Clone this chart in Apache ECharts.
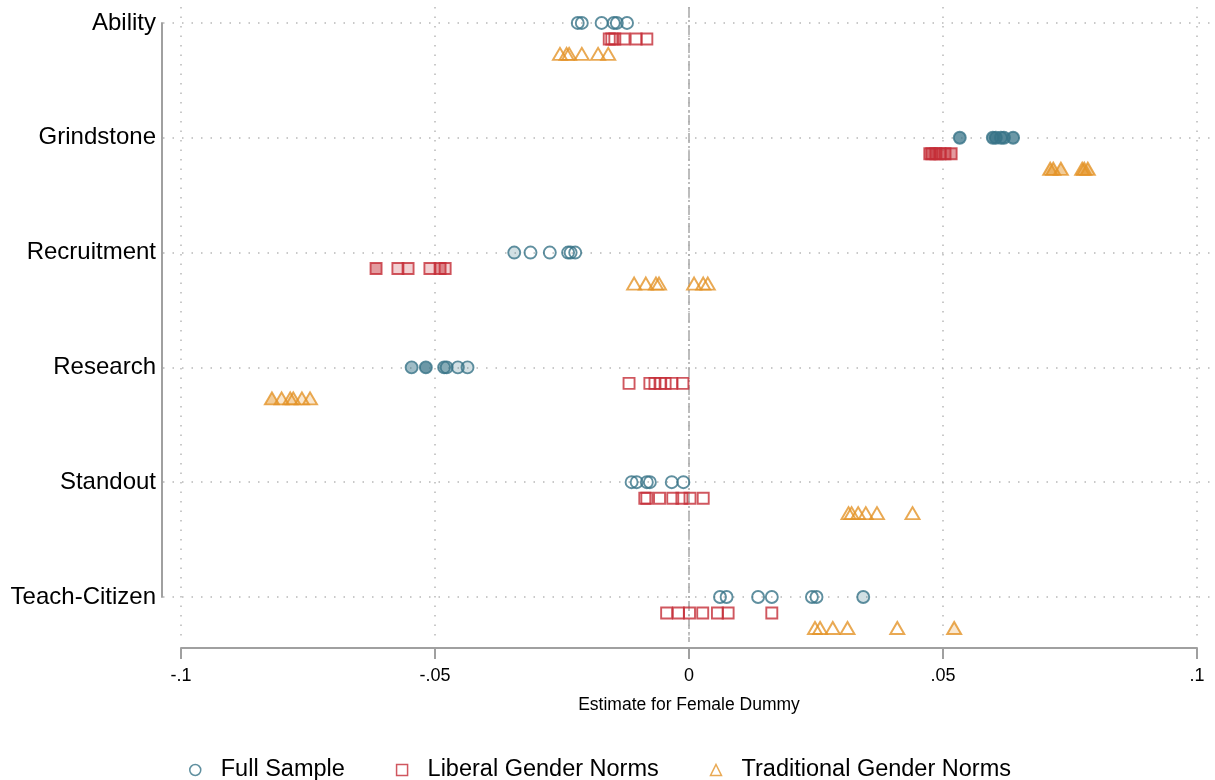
<!DOCTYPE html>
<html>
<head>
<meta charset="utf-8">
<script src="https://cdn.jsdelivr.net/npm/echarts@6/dist/echarts.min.js"></script>
<style>
html,body{margin:0;padding:0;background:#fff;}
#chart{width:1215px;height:780px;}
</style>
</head>
<body>
<div id="chart"></div>
<script>
// Categories (top to bottom)
var categories = ['Ability', 'Grindstone', 'Recruitment', 'Research', 'Standout', 'Teach-Citizen'];
var xTicks = [-0.1, -0.05, 0, 0.05, 0.1];
var xTickLabels = ['-.1', '-.05', '0', '.05', '.1'];
var seriesNames = ['Full Sample', 'Liberal Gender Norms', 'Traditional Gender Norms'];

// Estimates for female dummy, one list per category (same order as categories)
var fullSample = [
  [-0.0219, -0.0211, -0.0172, -0.0148, -0.0142, -0.0122],
  [0.0533, 0.0598, 0.0604, 0.0614, 0.0620, 0.0638],
  [-0.0344, -0.0312, -0.0274, -0.0238, -0.0233, -0.0224],
  [-0.0546, -0.0518, -0.0482, -0.0477, -0.0455, -0.0436],
  [-0.0113, -0.0103, -0.0083, -0.0077, -0.0034, -0.0011],
  [0.0061, 0.0074, 0.0136, 0.0163, 0.0242, 0.0251, 0.0343]
];
var liberalNorms = [
  [-0.0157, -0.0152, -0.0146, -0.0128, -0.0104, -0.0083],
  [0.0474, 0.0478, 0.0486, 0.0494, 0.0504, 0.0516],
  [-0.0616, -0.0573, -0.0553, -0.0510, -0.0490, -0.0480],
  [-0.0118, -0.0077, -0.0067, -0.0057, -0.0047, -0.0034, -0.0012],
  [-0.0087, -0.0083, -0.0058, -0.0032, -0.0014, 0.0002, 0.0028],
  [-0.0044, -0.0021, 0.0001, 0.0027, 0.0056, 0.0077, 0.0163]
];
var traditionalNorms = [
  [-0.0254, -0.0241, -0.0236, -0.0211, -0.0179, -0.0159],
  [0.0711, 0.0717, 0.0732, 0.0774, 0.0778, 0.0785],
  [-0.0108, -0.0085, -0.0065, -0.0059, 0.0010, 0.0028, 0.0037],
  [-0.0821, -0.0802, -0.0785, -0.0779, -0.0762, -0.0746],
  [0.0314, 0.0320, 0.0333, 0.0348, 0.0370, 0.0440],
  [0.0248, 0.0258, 0.0283, 0.0312, 0.0410, 0.0522]
];

// Marker fill level per estimate (0 hollow, 1 light, 2 medium, 3 dark)
var fullLevels = [
  [0,0,0,0,0,0],
  [3,3,3,2,3,3],
  [1,0,0,0,0,0],
  [2,3,2,1,1,1],
  [0,0,0,0,0,0],
  [0,0,0,0,0,0,1]
];
var liberalLevels = [
  [0,0,0,0,0,0],
  [2,2,2,2,2,2],
  [2,1,1,1,2,1],
  [0,0,0,0,0,0,0],
  [0,0,0,0,0,0,0],
  [0,0,0,0,0,0,0]
];
var traditionalLevels = [
  [0,0,0,0,0,0],
  [2,2,2,2,2,2],
  [0,0,0,0,0,0,0],
  [2,1,1,1,1,1],
  [0,0,0,0,0,0],
  [0,0,0,0,0,1]
];

var colors = [[55,115,135],[196,45,55],[228,148,40]];
var alphas = [0, 0.28, 0.6, 0.92];
var symbols = ['circle','rect','triangle'];
var symbolSizes = [12, 11, [14,12]];
var rowOffsets = [[0,0],[0,16],[0,31]];
var FONT = 'Liberation Sans, Arial, sans-serif';

function rgba(c, a){ return 'rgba(' + c[0] + ',' + c[1] + ',' + c[2] + ',' + a + ')'; }

function buildData(values, levels, c){
  var out = [];
  for (var i = 0; i < values.length; i++){
    for (var j = 0; j < values[i].length; j++){
      var lv = levels[i][j];
      out.push({
        value: [values[i][j], i],
        itemStyle: { color: lv === 0 ? 'rgba(255,255,255,0)' : rgba(c, alphas[lv]), borderColor: rgba(c,1), borderWidth: 1.9 }
      });
    }
  }
  return out;
}

var allValues = [fullSample, liberalNorms, traditionalNorms];
var allLevels = [fullLevels, liberalLevels, traditionalLevels];

var gridMarkData = categories.map(function(c, i){
  return { yAxis: i, lineStyle: { type: [1.5, 8], color: '#b8b8b8', width: 1.5 } };
});
gridMarkData.push({ xAxis: 0, lineStyle: { type: [10, 3, 2, 3], color: '#a8a8a8', width: 1.5 } });

var series = seriesNames.map(function(name, k){
  var s = {
    name: name,
    type: 'scatter',
    xAxisIndex: 0,
    yAxisIndex: 0,
    symbol: symbols[k],
    symbolSize: symbolSizes[k],
    symbolOffset: rowOffsets[k],
    itemStyle: { color: 'rgba(255,255,255,0)', borderColor: rgba(colors[k],1), borderWidth: 1.9 },
    data: buildData(allValues[k], allLevels[k], colors[k]),
    z: 5 + k
  };
  if (k === 0){
    s.markLine = { silent: true, symbol: ['none','none'], label: { show: false }, data: gridMarkData, z: 1, animation: false };
  }
  return s;
});

var chart = echarts.init(document.getElementById('chart'), null, { renderer: 'canvas' });
chart.setOption({
  animation: false,
  backgroundColor: '#ffffff',
  textStyle: { fontFamily: FONT },
  grid: [
    { left: 163, right: 0, top: 7, bottom: 138 },
    { left: 181, right: 18, top: 7, bottom: 138 },
    { left: 162, width: 1, top: 23, bottom: 183 }
  ],
  xAxis: [
    { gridIndex: 0, type: 'value', min: -0.10354, max: 0.10354, show: false },
    { gridIndex: 1, type: 'value', min: -0.1, max: 0.1, interval: 0.05, position: 'bottom', offset: 6,
      axisLine: { show: true, onZero: false, lineStyle: { color: '#a0a0a0', width: 2 } },
      axisTick: { show: true, length: 11, lineStyle: { color: '#a0a0a0', width: 2 } },
      axisLabel: { fontSize: 18, color: '#000', margin: 19, fontFamily: FONT,
        formatter: function(v){ var i = xTicks.findIndex(function(t){ return Math.abs(t - v) < 1e-9; }); return i >= 0 ? xTickLabels[i] : ''; } },
      splitLine: { show: true, lineStyle: { type: [1.5, 8], color: '#b8b8b8', width: 1.5 } },
      name: 'Estimate for Female Dummy', nameLocation: 'middle', nameGap: 48,
      nameTextStyle: { fontSize: 17.5, color: '#000', fontFamily: FONT }
    },
    { gridIndex: 2, type: 'value', show: false }
  ],
  yAxis: [
    { gridIndex: 0, type: 'value', inverse: true, min: -0.139, max: 5.392, show: false },
    { gridIndex: 1, type: 'value', show: false },
    { gridIndex: 2, type: 'category', data: categories, inverse: true, boundaryGap: false,
      axisLine: { show: true, lineStyle: { color: '#a0a0a0', width: 2 } },
      axisTick: { show: false },
      splitLine: { show: false },
      axisLabel: { fontSize: 24, color: '#000', margin: 6, padding: [11,0,0,0], fontFamily: FONT }
    }
  ],
  legend: {
    top: 753,
    left: 184,
    itemWidth: 11,
    itemHeight: 11,
    itemGap: 51,
    textStyle: { fontSize: 23.5, color: '#000', padding: [0,0,0,15], fontFamily: FONT },
    data: seriesNames.map(function(n, k){
      return { name: n, icon: symbols[k], itemStyle: { color: 'rgba(255,255,255,0)', borderColor: rgba(colors[k],1), borderWidth: 1.5 } };
    })
  },
  series: series
});
</script>
</body>
</html>
